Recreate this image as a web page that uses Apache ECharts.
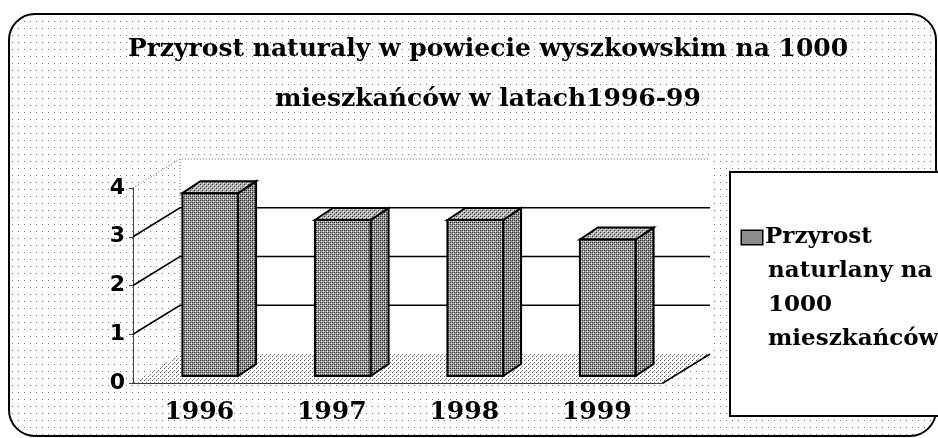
<!DOCTYPE html>
<html>
<head>
<meta charset="utf-8">
<script src="https://cdn.jsdelivr.net/npm/echarts@6/dist/echarts.min.js"></script>
<style>
  html, body { margin: 0; padding: 0; background: #fff; }
  #chart { width: 938px; height: 438px; }
</style>
</head>
<body>
<div id="chart"></div>
<script>
const years = ['1996', '1997', '1998', '1999']
const values = [3.75, 3.2, 3.2, 2.8]
const yTicks = [0, 1, 2, 3, 4]
const seriesName = 'Przyrost naturlany na 1000 mieszkańców'

// depth of the fake 3d box (px)
const DX = 47
const DY = -29

function makePattern (w, h, bg, dots) {
  const c = document.createElement('canvas')
  c.width = w
  c.height = h
  const ctx = c.getContext('2d')
  ctx.fillStyle = bg
  ctx.fillRect(0, 0, w, h)
  dots.forEach(d => {
    ctx.fillStyle = d[2]
    ctx.fillRect(d[0], d[1], 1, 1)
  })
  return { image: c, repeat: 'repeat' }
}

const bgPat = makePattern(6, 7, '#fff', [[0, 0, '#777']])
const floorPat = makePattern(4, 4, '#fff', [[0, 0, '#555'], [2, 2, '#777'], [1, 3, '#aaa']])
const frontPat = makePattern(4, 4, '#a0a0a0', [[0, 0, '#333'], [2, 2, '#333'], [2, 0, '#333'], [0, 2, '#333'], [1, 1, '#fff'], [3, 3, '#fff']])
const sidePat = makePattern(4, 4, '#969696', [[0, 0, '#222'], [2, 2, '#222'], [2, 0, '#333'], [0, 2, '#333'], [1, 1, '#eee'], [3, 3, '#eee']])
const topPat = makePattern(4, 4, '#b0b0b0', [[0, 0, '#333'], [2, 2, '#333'], [1, 1, '#fff'], [3, 3, '#fff']])

const serif = 'DejaVu Serif'

function renderFrame (params, api) {
  const cs = params.coordSys
  const v = api.value(1)
  const y = api.coord([0, v])[1]
  const x0 = cs.x
  const x1 = cs.x + cs.width
  const children = []
  if (v === 0) {
    // back wall, floor, edges
    children.push({ type: 'rect', shape: { x: x0 + DX, y: cs.y + DY, width: cs.width, height: y - cs.y }, style: { fill: '#fff' } })
    children.push({ type: 'polygon', shape: { points: [[x0, y], [x1, y], [x1 + DX, y + DY], [x0 + DX, y + DY]] }, style: { fill: floorPat } })
    children.push({ type: 'line', shape: { x1: x0 + DX, y1: cs.y + DY, x2: x0 + DX, y2: y + DY }, style: { stroke: '#666', lineWidth: 1, lineDash: [1, 2] } })
    children.push({ type: 'line', shape: { x1: x1, y1: y, x2: x1 + DX, y2: y + DY }, style: { stroke: '#000', lineWidth: 1.5 } })
  } else {
    const isTop = v === yTicks[yTicks.length - 1]
    children.push({
      type: 'polyline',
      shape: { points: [[x0, y], [x0 + DX, y + DY], [x1 + DX, y + DY]] },
      style: isTop
        ? { stroke: '#666', lineWidth: 1, lineDash: [1, 2], fill: null }
        : { stroke: '#000', lineWidth: 1.5, fill: null }
    })
  }
  return { type: 'group', children: children }
}

function renderBar (params, api) {
  const i = api.value(0)
  const v = api.value(1)
  const top = api.coord([i, v])
  const base = api.coord([i, 0])
  const w = api.size([1, 0])[0] * 0.42
  const fx = top[0] - w / 2 + 11
  const fy = top[1] - 7
  const by = base[1] - 7
  const bx = 18
  const bd = -12
  return {
    type: 'group',
    children: [
      { type: 'polygon', shape: { points: [[fx + w, fy], [fx + w + bx, fy + bd], [fx + w + bx, by + bd], [fx + w, by]] }, style: { fill: sidePat, stroke: '#000', lineWidth: 2 } },
      { type: 'polygon', shape: { points: [[fx, fy], [fx + bx, fy + bd], [fx + w + bx, fy + bd], [fx + w, fy]] }, style: { fill: topPat, stroke: '#000', lineWidth: 2 } },
      { type: 'rect', shape: { x: fx, y: fy, width: w, height: by - fy }, style: { fill: frontPat, stroke: '#000', lineWidth: 2 } }
    ]
  }
}

const chart = echarts.init(document.getElementById('chart'))
const option = {
  animation: false,
  graphic: [
    { type: 'rect', z: -10, shape: { x: 9, y: 14, width: 927, height: 422, r: 26 }, style: { fill: bgPat, stroke: '#000', lineWidth: 2 } }
  ],
  title: {
    text: 'Przyrost naturaly w powiecie wyszkowskim na 1000\nmieszkańców w latach1996-99',
    left: 483,
    top: 19,
    textAlign: 'center',
    textVerticalAlign: 'top',
    textStyle: { fontFamily: serif, fontWeight: 'bold', fontSize: 25, lineHeight: 50, color: '#000' }
  },
  legend: {
    data: [seriesName],
    left: 730,
    top: 172,
    orient: 'vertical',
    backgroundColor: '#fff',
    borderColor: '#000',
    borderWidth: 2,
    borderRadius: 0,
    padding: [54, 12, 65, 6],
    itemWidth: 1,
    itemHeight: 1,
    itemStyle: { opacity: 0 },
    formatter: () => '{i|}{t|Przyrost}\n{s|}{t|naturlany na}\n{s|}{t|1000}\n{s|}{t|mieszkańców}',
    textStyle: {
      rich: {
        i: { width: 20, height: 13, backgroundColor: '#8c8c8c', borderColor: '#000', borderWidth: 1.5 },
        s: { width: 23 },
        t: { fontFamily: serif, fontWeight: 'bold', fontSize: 23, lineHeight: 34, color: '#000', padding: [0, 0, 0, 3] }
      }
    }
  },
  grid: { left: 133, right: 275, top: 188, bottom: 55 },
  xAxis: {
    type: 'category',
    data: years,
    axisLine: { lineStyle: { color: '#000', width: 1.5 } },
    axisTick: { show: false },
    axisLabel: { fontFamily: serif, fontWeight: 'bold', fontSize: 25, color: '#000', margin: 17 }
  },
  yAxis: {
    type: 'value',
    min: 0,
    max: 4,
    interval: 1,
    axisLine: { show: true, lineStyle: { color: '#444', width: 1 } },
    axisTick: { show: true, length: 4, lineStyle: { color: '#444' } },
    splitLine: { show: false },
    axisLabel: { fontFamily: 'DejaVu Sans', fontWeight: 'bold', fontSize: 22, color: '#000', margin: 8 }
  },
  series: [
    {
      type: 'custom',
      name: 'frame',
      z: 1,
      silent: true,
      renderItem: renderFrame,
      encode: { x: 0, y: 1 },
      data: yTicks.map(t => [0, t])
    },
    {
      type: 'custom',
      name: seriesName,
      z: 3,
      renderItem: renderBar,
      encode: { x: 0, y: 1 },
      data: values.map((v, i) => [i, v])
    }
  ]
}
chart.setOption(option)
</script>
</body>
</html>
